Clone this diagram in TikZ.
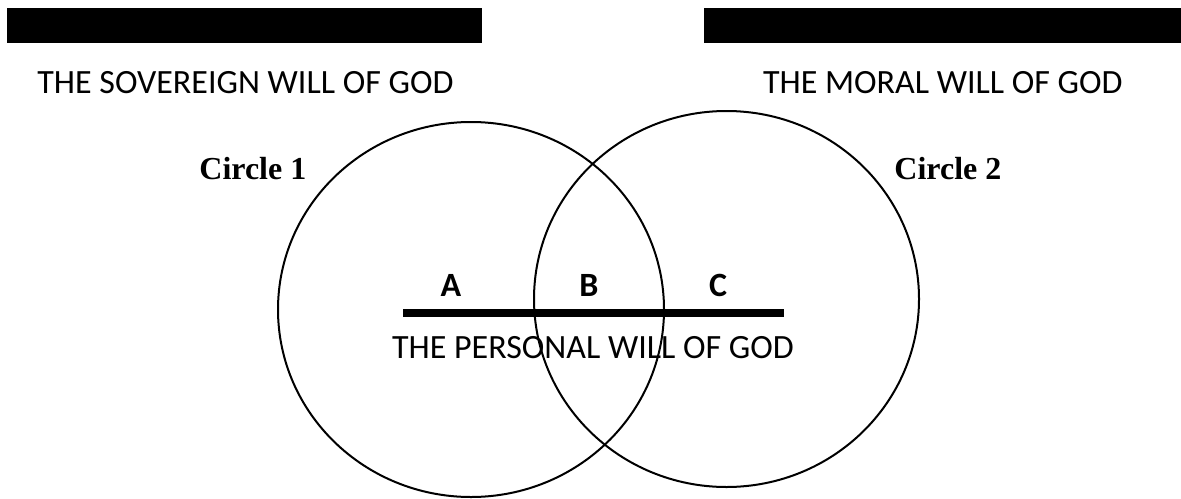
\documentclass[tikz,border=0pt]{standalone}
\usepackage{fontspec}
\setmainfont{Carlito}
\newfontfamily\circfont{Liberation Serif}
\usetikzlibrary{positioning}

\begin{document}
\begin{tikzpicture}[x=0.5pt,y=-0.5pt,
  hdr/.style={font=\fontsize{17}{20}\selectfont,inner sep=0pt},
  seglab/.style={font=\fontsize{17}{20}\selectfont\bfseries,inner sep=0pt,anchor=base},
  circlab/.style={font=\circfont\fontsize{16}{19}\selectfont\bfseries,inner sep=0pt,anchor=base west}]
\useasboundingbox (0,0) rectangle (1181,498);
% black bars on top
\fill[black] (7,8) rectangle (482,43);
\fill[black] (704,8) rectangle (1181,43);
\node[hdr,anchor=base west] (sov) at (37,93) {THE SOVEREIGN WILL OF GOD};
\node[hdr,anchor=base east] (mor) at (1123,93) {THE MORAL WILL OF GOD};
% the two circles
\coordinate (c1) at (471,309.5);
\coordinate (c2) at (726.5,299);
\draw[line width=1pt] (c1) ellipse [x radius=96.5pt,y radius=93.75pt];
\draw[line width=1pt] (c2) ellipse [x radius=96.25pt,y radius=94pt];
\node[circlab] (cl1) at (199,179) {Circle 1};
\node[circlab] (cl2) at (894,179) {Circle 2};
% personal will line
\coordinate (pwl) at (403,313);
\coordinate (pwr) at (784,313);
\draw[line width=4.25pt] (pwl) -- (pwr);
\foreach \x/\t/\nm in {451/A/la,589/B/lb,718/C/lc}{
  \node[seglab] (\nm) at (\x,296) {\t};
}
\node[hdr,anchor=base] (pers) at (593,358) {THE PERSONAL WILL OF GOD};
\end{tikzpicture}
\end{document}
